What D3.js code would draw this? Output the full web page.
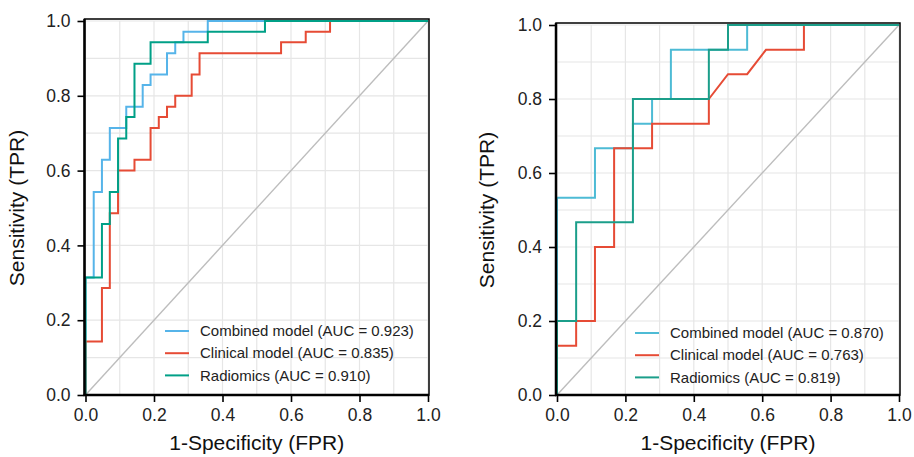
<!DOCTYPE html>
<html>
<head>
<meta charset="utf-8">
<script src="https://cdn.jsdelivr.net/npm/d3@7"></script>
<style>
  body { margin: 0; background: #fff; }
  text { font-family: "Liberation Sans", Arial, sans-serif; }
</style>
</head>
<body>
<div id="chart"></div>
<script>
// ROC points [FPR, TPR].
const leftCombined = [[0,0],[0,0.314],[0.024,0.314],[0.024,0.543],[0.048,0.543],[0.048,0.629],[0.071,0.629],[0.071,0.714],[0.119,0.714],[0.119,0.771],[0.167,0.771],[0.167,0.829],[0.190,0.829],[0.190,0.857],[0.238,0.857],[0.238,0.914],[0.262,0.914],[0.262,0.943],[0.286,0.943],[0.286,0.971],[0.357,0.971],[0.357,1],[1,1]];
const leftClinical = [[0,0],[0,0.143],[0.048,0.143],[0.048,0.286],[0.071,0.286],[0.071,0.486],[0.095,0.486],[0.095,0.600],[0.143,0.600],[0.143,0.629],[0.190,0.629],[0.190,0.714],[0.214,0.714],[0.214,0.743],[0.238,0.743],[0.238,0.771],[0.262,0.771],[0.262,0.800],[0.310,0.800],[0.310,0.857],[0.333,0.857],[0.333,0.914],[0.571,0.914],[0.571,0.943],[0.643,0.943],[0.643,0.971],[0.714,0.971],[0.714,1],[1,1]];
const leftRadiomics = [[0,0],[0,0.314],[0.048,0.314],[0.048,0.457],[0.071,0.457],[0.071,0.543],[0.095,0.543],[0.095,0.686],[0.119,0.686],[0.119,0.743],[0.143,0.743],[0.143,0.886],[0.190,0.886],[0.190,0.943],[0.357,0.943],[0.357,0.971],[0.524,0.971],[0.524,1],[1,1]];

const rightCombined = [[0,0],[0,0.533],[0.111,0.533],[0.111,0.667],[0.222,0.667],[0.222,0.733],[0.278,0.733],[0.278,0.8],[0.333,0.8],[0.333,0.933],[0.556,0.933],[0.556,1],[1,1]];
const rightClinical = [[0,0],[0,0.133],[0.056,0.133],[0.056,0.2],[0.111,0.2],[0.111,0.4],[0.167,0.4],[0.167,0.667],[0.278,0.667],[0.278,0.733],[0.444,0.733],[0.444,0.8],[0.5,0.867],[0.556,0.867],[0.611,0.933],[0.722,0.933],[0.722,1],[1,1]];
const rightRadiomics = [[0,0],[0,0.2],[0.056,0.2],[0.056,0.467],[0.222,0.467],[0.222,0.8],[0.444,0.8],[0.444,0.933],[0.5,0.933],[0.5,1],[1,1]];

const modelNames = ["Combined model", "Clinical model", "Radiomics"];
const leftAUC = ["0.923", "0.835", "0.910"];
const rightAUC = ["0.870", "0.763", "0.819"];
const tickValues = [0, 0.2, 0.4, 0.6, 0.8, 1.0];

const width = 914;
const height = 457;

const svg = d3.select("#chart").append("svg")
  .attr("width", width)
  .attr("height", height);

// Draw one ROC panel.
function panel(opts) {
  const x = d3.scaleLinear().domain([0, 1]).range([opts.x0, opts.x1]);
  const y = d3.scaleLinear().domain([0, 1]).range([opts.y0, opts.y1]);
  const g = svg.append("g");

  // Grid at every 0.1.
  const grid = d3.range(0, 11).map((d) => d / 10);
  g.append("g").selectAll("line").data(grid).join("line")
    .attr("x1", (d) => x(d)).attr("x2", (d) => x(d))
    .attr("y1", opts.y0).attr("y2", opts.y1)
    .attr("stroke", "#e6e6e6").attr("stroke-width", 1.2);
  g.append("g").selectAll("line").data(grid).join("line")
    .attr("y1", (d) => y(d)).attr("y2", (d) => y(d))
    .attr("x1", opts.x0).attr("x2", opts.x1)
    .attr("stroke", "#e6e6e6").attr("stroke-width", 1.2);

  // Reference diagonal.
  g.append("line")
    .attr("x1", x(0)).attr("y1", y(0))
    .attr("x2", x(1)).attr("y2", y(1))
    .attr("stroke", "#bdbdbd").attr("stroke-width", 1.4);

  const line = d3.line().x((d) => x(d[0])).y((d) => y(d[1]));
  opts.series.forEach((s, i) => {
    g.append("path")
      .datum(s)
      .attr("d", line)
      .attr("fill", "none")
      .attr("stroke", opts.colors[i])
      .attr("stroke-width", 2);
  });

  // Frame.
  g.append("rect")
    .attr("x", opts.x0 - 1).attr("y", opts.y1 - 2)
    .attr("width", opts.x1 - opts.x0 + 2).attr("height", opts.y0 - opts.y1 + 2)
    .attr("fill", "none").attr("stroke", "#000").attr("stroke-width", 1.5);
  g.append("line")
    .attr("x1", opts.x0 - 1).attr("x2", opts.x0 - 1)
    .attr("y1", opts.y1 - 2).attr("y2", opts.y0 + 1)
    .attr("stroke", "#000").attr("stroke-width", 2.5);
  g.append("line")
    .attr("x1", opts.x0 - 2).attr("x2", opts.x1 + 1)
    .attr("y1", opts.y0).attr("y2", opts.y0)
    .attr("stroke", "#000").attr("stroke-width", 2.5);

  // Axes.
  const xAxis = g.append("g")
    .attr("transform", `translate(0,${opts.y0})`)
    .call(d3.axisBottom(x).tickValues(tickValues).tickFormat(d3.format(".1f")).tickSize(7).tickPadding(7));
  const yAxis = g.append("g")
    .attr("transform", `translate(${opts.x0 - 1},0)`)
    .call(d3.axisLeft(y).tickValues(tickValues).tickFormat(d3.format(".1f")).tickSize(7).tickPadding(7));
  [xAxis, yAxis].forEach((a) => {
    a.select(".domain").remove();
    a.selectAll(".tick line").attr("stroke", "#000").attr("stroke-width", 1.6);
    a.selectAll(".tick text")
      .attr("fill", "#222")
      .style("font-size", "17.5px")
      .style("font-family", "Liberation Sans, Arial, sans-serif");
  });

  // Axis titles.
  g.append("text")
    .attr("x", (opts.x0 + opts.x1) / 2)
    .attr("y", 450)
    .attr("text-anchor", "middle")
    .attr("fill", "#111")
    .style("font-size", "21px")
    .text("1-Specificity (FPR)");
  g.append("text")
    .attr("transform", `translate(${opts.titleX},${(opts.y0 + opts.y1) / 2}) rotate(-90)`)
    .attr("text-anchor", "middle")
    .attr("fill", "#111")
    .style("font-size", "21px")
    .text("Sensitivity (TPR)");

  // Legend.
  const leg = g.append("g").attr("transform", `translate(${opts.legX},${opts.legY})`);
  modelNames.forEach((name, i) => {
    const row = leg.append("g").attr("transform", `translate(0,${i * 22.2})`);
    row.append("line")
      .attr("x1", 0).attr("x2", 24)
      .attr("stroke", opts.colors[i]).attr("stroke-width", 2);
    row.append("text")
      .attr("x", 35).attr("dy", "0.35em")
      .attr("fill", "#222")
      .style("font-size", "15px")
      .text(`${name} (AUC = ${opts.auc[i]})`);
  });
}

panel({
  x0: 85.5, x1: 428, y0: 395, y1: 21,
  series: [leftCombined, leftClinical, leftRadiomics],
  colors: ["#56b4e9", "#e64b35", "#00a087"],
  auc: leftAUC,
  titleX: 24, legX: 165, legY: 331
});

panel({
  x0: 557, x1: 899, y0: 395, y1: 25,
  series: [rightCombined, rightClinical, rightRadiomics],
  colors: ["#4dbbd5", "#e64b35", "#1b9e8a"],
  auc: rightAUC,
  titleX: 494, legX: 635, legY: 333
});
</script>
</body>
</html>
